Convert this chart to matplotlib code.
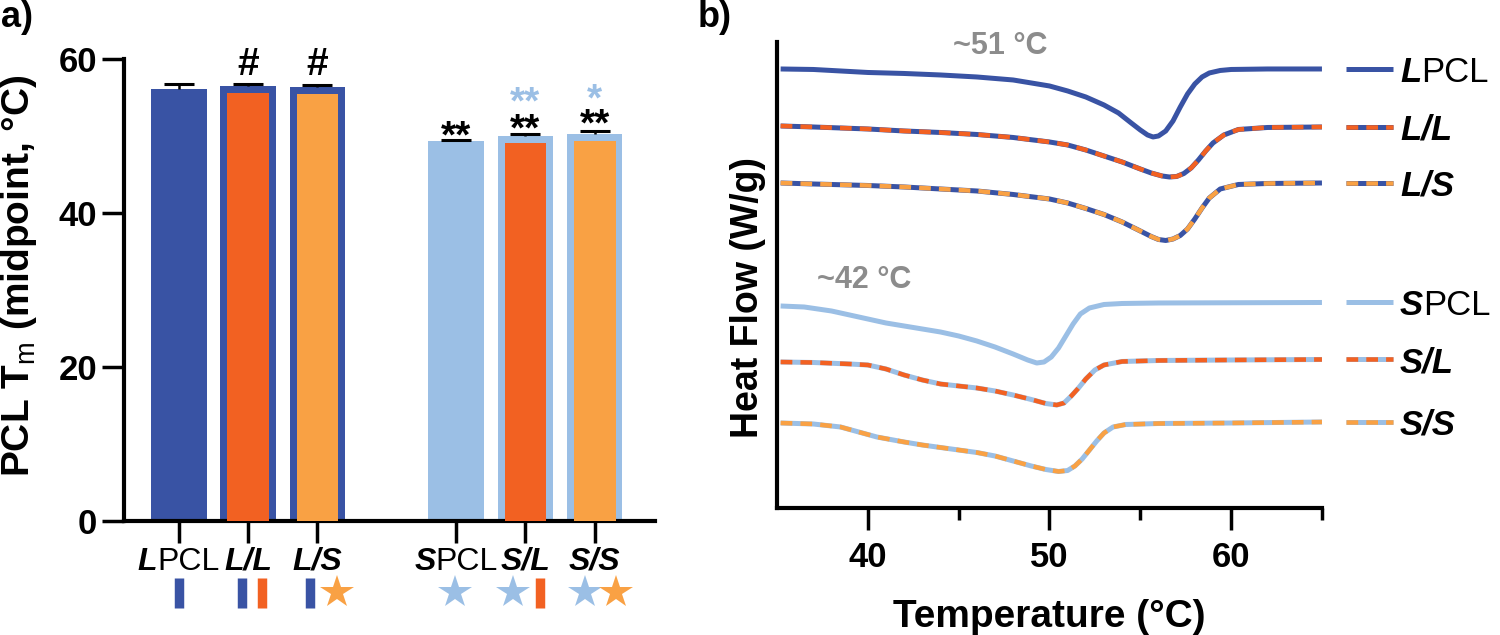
import matplotlib
matplotlib.use('Agg')
import matplotlib.pyplot as plt
from matplotlib.transforms import ScaledTranslation
import numpy as np

plt.rcParams['font.family'] = ['Liberation Sans', 'DejaVu Sans']
plt.rcParams['mathtext.fontset'] = 'custom'
plt.rcParams['mathtext.rm'] = 'Liberation Sans'
plt.rcParams['mathtext.it'] = 'Liberation Sans:italic'
plt.rcParams['mathtext.bf'] = 'Liberation Sans:bold'

DARK_BLUE = '#3953A4'
ORANGE = '#F26122'
LIGHT_ORANGE = '#F9A144'
LIGHT_BLUE = '#9BBFE5'
GREY = '#8C8C8C'

# ---- panel a: PCL Tm midpoint ----
bar_pos = [0, 1, 2, 4, 5, 6]
tm_mid = [56.1, 56.5, 56.3, 49.3, 50.0, 50.3]
tm_err = [0.65, 0.3, 0.3, 0.15, 0.3, 0.3]
outer_col = [DARK_BLUE, DARK_BLUE, DARK_BLUE, LIGHT_BLUE, LIGHT_BLUE, LIGHT_BLUE]
inner_col = [None, ORANGE, LIGHT_ORANGE, None, ORANGE, LIGHT_ORANGE]
cat_labels = [[('L', True), ('PCL', False)], [('L/L', True)], [('L/S', True)],
              [('S', True), ('PCL', False)], [('S/L', True)], [('S/S', True)]]

# little symbols under the category labels
sym_x = [0.0, 0.91, 1.2, 1.89, 2.28, 3.98, 4.82, 5.21, 5.86, 6.31]
sym_kind = ['|', '|', '|', '|', '*', '*', '*', '|', '*', '*']
sym_col = [DARK_BLUE, DARK_BLUE, ORANGE, DARK_BLUE, LIGHT_ORANGE,
           LIGHT_BLUE, LIGHT_BLUE, ORANGE, LIGHT_BLUE, LIGHT_ORANGE]

# significance marks (x, baseline y, text, colour, size)
sig_x = [1, 2, 4, 5, 5, 6, 6]
sig_y = [57.9, 57.9, 48.5, 49.4, 52.9, 50.1, 53.3]
sig_txt = ['#', '#', '**', '**', '**', '**', '*']
sig_col = ['black', 'black', 'black', 'black', LIGHT_BLUE, 'black', LIGHT_BLUE]
sig_size = [28, 28, 28, 28, 28, 28, 28]

# ---- panel b: DSC traces (heat flow, arbitrary offset units) ----
t_lpcl = [35.2, 37, 39, 40, 42, 44, 46, 48, 49, 50, 51, 52, 53, 53.8, 54.5, 55.0, 55.4, 55.7,
          56.0, 56.4, 56.8, 57.2, 57.6, 58.0, 58.4, 58.8, 59.4, 60, 62, 65]
hf_lpcl = [439, 438.5, 436.5, 435.5, 434.5, 433, 431, 428, 425, 422, 417, 411, 403, 395, 385,
           378, 373, 371, 372, 377, 387, 401, 414, 424, 431, 435, 437.5, 438.5, 439, 439]

t_ll = [35.2, 37, 40, 42, 44, 46, 48, 50, 51, 52, 53, 54, 55, 55.6, 56.2, 56.6, 57.0, 57.4,
        57.8, 58.2, 58.6, 59.0, 59.6, 60.4, 62, 65]
hf_ll = [382, 381, 379, 377, 375.5, 373.5, 370.5, 366, 363, 358, 352, 346, 339, 335, 332, 331,
         331.5, 334.5, 340, 348, 357, 365, 373, 378.5, 380.5, 381]

t_ls = [35.2, 37, 40, 42, 44, 46, 48, 50, 51, 52, 53, 54, 55, 55.6, 56.0, 56.4, 56.8, 57.2,
        57.6, 58.0, 58.4, 58.8, 59.4, 60.4, 62, 65]
hf_ls = [325, 324, 322.5, 321, 319, 317, 313.5, 309, 305, 299.5, 293.5, 286, 277, 271.5, 268.5,
         267.5, 269, 272.5, 279, 289, 300, 310, 319, 323.5, 324.5, 325]

t_spcl = [35.2, 36.5, 38, 39, 40, 41, 42, 43, 44, 45, 46, 47, 48, 48.8, 49.3, 49.7, 50.1, 50.5,
          50.9, 51.3, 51.7, 52.2, 53, 54, 56, 65]
hf_spcl = [202, 201, 197, 193, 189, 185, 182, 179, 176, 172, 167, 161, 154, 148, 145, 146, 151,
           160, 172, 184, 194, 200, 203.5, 204.5, 205, 205.5]

t_sl = [35.2, 37, 39, 40, 41, 42, 43, 44, 45, 46, 47, 48, 49, 49.8, 50.4, 50.8, 51.2, 51.6,
        52.0, 52.5, 53, 54, 56, 60, 65]
hf_sl = [146, 145.5, 144, 143, 139, 133, 128, 124, 122, 120, 117, 113, 108.5, 104.5, 103, 105,
         112, 120, 129, 138, 143, 146.5, 147.5, 148, 148.5]

t_ss = [35.2, 37, 38.5, 39.5, 40.5, 42, 43, 44, 45, 46, 47, 48, 49, 49.8, 50.5, 51.0, 51.4,
        51.8, 52.2, 52.6, 53.0, 53.5, 54.2, 56, 60, 65]
hf_ss = [85, 84, 81, 76, 71, 66, 63, 60.5, 58, 55.5, 52, 47, 42, 38.5, 36.5, 37.5, 42, 49, 58,
         67, 75, 81, 83.5, 84.5, 85, 86]

traces = [
    (t_lpcl, hf_lpcl, DARK_BLUE, None, [('L', True), ('PCL', False)]),
    (t_ll, hf_ll, DARK_BLUE, ORANGE, [('L/L', True)]),
    (t_ls, hf_ls, DARK_BLUE, LIGHT_ORANGE, [('L/S', True)]),
    (t_spcl, hf_spcl, LIGHT_BLUE, None, [('S', True), ('PCL', False)]),
    (t_sl, hf_sl, LIGHT_BLUE, ORANGE, [('S/L', True)]),
    (t_ss, hf_ss, LIGHT_BLUE, LIGHT_ORANGE, [('S/S', True)]),
]


def mixed_text(ax, x, y, parts, size, ha='center', va='baseline'):
    """Write text made of bold-italic and regular pieces side by side."""
    fig = ax.figure
    r = fig.canvas.get_renderer()
    texts = []
    for s, bi in parts:
        t = ax.text(x, y, s, fontsize=size,
                    fontweight='bold' if bi else 'normal',
                    fontstyle='italic' if bi else 'normal',
                    ha='left', va=va, clip_on=False)
        texts.append(t)
    widths = [t.get_window_extent(r).width for t in texts]
    off = -sum(widths) / 2 if ha == 'center' else 0
    for t, w in zip(texts, widths):
        t.set_transform(ax.transData + ScaledTranslation(off / fig.dpi, 0, fig.dpi_scale_trans))
        off += w


def draw_trace(ax, x, y, base, dash, lw=3.6):
    ax.plot(x, y, color=base, lw=lw, solid_capstyle='butt', clip_on=False)
    if dash is not None:
        ax.plot(x, y, color=dash, lw=lw * 0.9, dashes=(2.6, 1.8),
                dash_capstyle='butt', clip_on=False)


fig = plt.figure(figsize=(15, 6.35), dpi=100)
ax_a = fig.add_axes([0.0827, 0.1795, 0.354, 0.7276])
ax_b = fig.add_axes([0.518, 0.2, 0.3633, 0.7339])

# ---------- panel a ----------
for x, v, oc, ic in zip(bar_pos, tm_mid, outer_col, inner_col):
    ax_a.bar(x, v, width=0.8, color=oc, zorder=2)
    if ic is not None:
        ax_a.bar(x, v - 0.9, width=0.6, color=ic, zorder=3)

tops = np.array(tm_mid) + np.array(tm_err)
ax_a.vlines(bar_pos, tm_mid, tops, color='black', lw=1.8, zorder=4)
ax_a.plot(bar_pos, tops, ls='none', marker='_', ms=21.6, mew=2.2, color='black', zorder=4)

for x, y, s, c, fs in zip(sig_x, sig_y, sig_txt, sig_col, sig_size):
    ax_a.text(x, y, s, color=c, fontsize=fs, fontweight='bold', ha='center',
              va='baseline', clip_on=False, zorder=5)

ax_a.set_xlim(-0.79, 6.87)
ax_a.set_ylim(0, 60)
ax_a.set_yticks([0, 20, 40, 60])
ax_a.set_xticks(bar_pos)
ax_a.set_xticklabels([])
for lbl in ax_a.get_yticklabels():
    lbl.set_fontweight('bold')
ax_a.spines[['top', 'right']].set_visible(False)
ax_a.spines[['left', 'bottom']].set_linewidth(3)
ax_a.tick_params(width=2.5, length=16, labelsize=25, pad=3.5)

for x, parts in zip(bar_pos, cat_labels):
    mixed_text(ax_a, x, -6.36, parts, 23)

for x, k, c in zip(sym_x, sym_kind, sym_col):
    if k == '|':
        ax_a.plot(x, -9.4, marker='|', ms=21.6, mew=6.8, color=c, clip_on=False)
    else:
        ax_a.plot(x, -9.2, marker='*', ms=25, mew=0, color=c, clip_on=False)

fig.text(0.013, 0.565, 'PCL T$_\\mathrm{m}$ (midpoint, °C)', rotation=90,
         fontsize=28, fontweight='bold', ha='center', va='center')

# ---------- panel b ----------
for t, hf, base, dash, parts in traces:
    draw_trace(ax_b, t, hf, base, dash)
    draw_trace(ax_b, [66.3, 68.9], [hf[-1], hf[-1]], base, dash)
    mixed_text(ax_b, 69.3, hf[-1], parts, 25, ha='left', va='center_baseline')

ax_b.text(47.3, 462, '~51 °C', color=GREY, fontsize=22, fontweight='bold',
          ha='center', va='center', clip_on=False)
ax_b.text(39.8, 228, '~42 °C', color=GREY, fontsize=22, fontweight='bold',
          ha='center', va='center', clip_on=False)

ax_b.set_xlim(35, 65)
ax_b.set_ylim(0, 466)
ax_b.set_yticks([])
ax_b.set_xticks([40, 50, 60])
ax_b.set_xticks([45, 55, 65], minor=True)
for lbl in ax_b.get_xticklabels():
    lbl.set_fontweight('bold')
ax_b.spines[['top', 'right']].set_visible(False)
ax_b.spines[['left', 'bottom']].set_linewidth(3)
ax_b.tick_params(axis='x', which='major', width=2.5, length=16, labelsize=25, pad=8)
ax_b.tick_params(axis='x', which='minor', width=2.5, length=8.6)

fig.text(0.4987, 0.531, 'Heat Flow (W/g)', rotation=90, fontsize=27,
         fontweight='bold', ha='center', va='center')
fig.text(0.6993, 0.013, 'Temperature (°C)', fontsize=28, fontweight='bold',
         ha='center', va='baseline')

fig.text(0.001, 0.972, 'a)', fontsize=26, fontweight='bold', va='center')
fig.text(0.465, 0.972, 'b)', fontsize=26, fontweight='bold', va='center')

fig.savefig('out.png', dpi=100)
